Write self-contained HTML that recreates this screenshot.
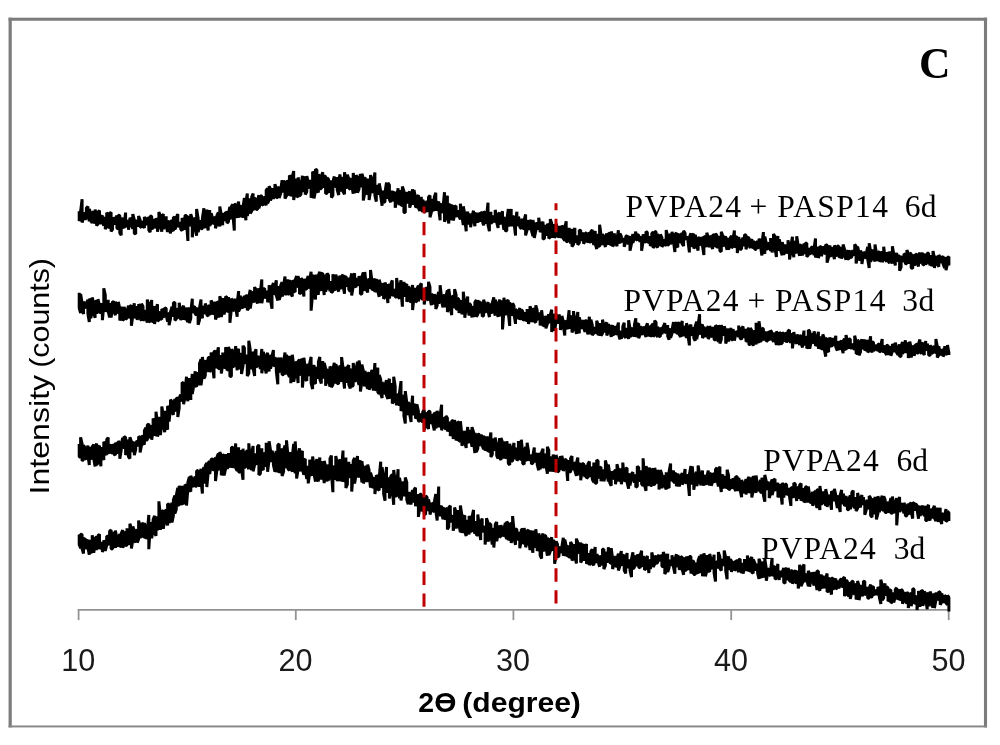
<!DOCTYPE html>
<html lang="en">
<head>
<meta charset="utf-8">
<title>XRD patterns</title>
<style>
html,body{margin:0;padding:0;background:#fff;}
body{width:1000px;height:745px;overflow:hidden;}
svg{display:block;}
</style>
</head>
<body>
<svg width="1000" height="745" viewBox="0 0 1000 745">
<rect x="0" y="0" width="1000" height="745" fill="#ffffff"/>
<g fill="#7c7c7c">
<rect x="8.57" y="17.7" width="3.2" height="709.7"/>
<rect x="983.95" y="17.7" width="3.1" height="709.7"/>
<rect x="8.57" y="17.7" width="978.48" height="3.05"/>
<rect x="8.57" y="725.5" width="978.48" height="1.9" fill="#868686"/>
</g>
<g stroke="#939393" stroke-width="1.8" fill="none">
<line x1="77.75" y1="609.93" x2="949.55" y2="609.93"/>
<line x1="78.6" y1="609.93" x2="78.6" y2="620.13"/>
<line x1="295.8" y1="609.93" x2="295.8" y2="620.13"/>
<line x1="513.4" y1="609.93" x2="513.4" y2="620.13"/>
<line x1="731.2" y1="609.93" x2="731.2" y2="620.13"/>
<line x1="948.7" y1="609.93" x2="948.7" y2="620.13"/>
</g>
<g fill="none" stroke="#000000" stroke-width="3" stroke-linejoin="bevel" stroke-linecap="butt">
<polyline points="79.2,211.2 79.2,220.9 80.6,217.1 80.6,211.5 82.1,199.3 82.1,222.6 83.5,218.4 83.5,213.0 85.0,214.3 85.0,219.6 86.4,217.8 86.4,208.1 87.9,206.5 87.9,213.9 89.3,221.3 89.3,209.1 90.8,213.4 90.8,220.8 92.2,222.9 92.2,213.5 93.7,211.5 93.7,223.5 95.1,219.0 95.1,209.6 96.6,215.0 96.6,225.7 98.0,223.8 98.0,212.3 99.5,210.5 99.5,222.4 100.9,223.5 100.9,217.4 102.4,215.5 102.4,222.9 103.8,225.6 103.8,217.5 105.3,219.5 105.3,229.3 106.7,225.0 106.7,212.8 108.2,214.6 108.2,227.1 109.6,227.6 109.6,213.2 111.1,212.5 111.1,231.4 112.5,229.4 112.5,218.7 114.0,218.1 114.0,223.2 115.4,223.9 115.4,218.3 116.9,215.8 116.9,228.1 118.3,228.9 118.3,215.2 119.8,215.4 119.8,232.9 121.2,235.3 121.2,218.6 122.7,218.7 122.7,225.7 124.1,228.3 124.1,223.1 125.6,212.6 125.6,224.7 127.0,227.1 127.0,220.3 128.5,222.7 128.5,229.7 129.9,220.9 129.9,217.8 131.4,220.7 131.4,224.6 132.8,228.7 132.8,214.0 134.3,219.9 134.3,233.3 135.7,233.9 135.7,219.5 137.2,225.4 137.2,226.2 138.6,224.5 138.6,216.1 140.1,219.8 140.1,226.5 141.5,227.5 141.5,224.0 143.0,221.1 143.0,225.4 144.4,227.9 144.4,217.0 145.9,219.8 145.9,222.5 147.3,224.9 147.3,218.3 148.8,217.8 148.8,229.9 150.2,232.3 150.2,215.9 151.7,216.4 151.7,228.4 153.1,228.2 153.1,224.3 154.6,218.9 154.6,226.6 156.0,227.4 156.0,218.2 157.5,221.0 157.5,231.8 158.9,223.9 158.9,212.1 160.4,216.3 160.4,224.4 161.8,231.7 161.8,216.1 163.3,214.1 163.3,228.9 164.7,225.7 164.7,221.4 166.2,216.3 166.2,226.3 167.6,232.0 167.6,221.8 169.1,221.5 169.1,228.1 170.5,233.4 170.5,221.6 172.0,220.4 172.0,229.7 173.4,231.0 173.4,217.3 174.9,217.6 174.9,229.4 176.3,226.4 176.3,217.7 177.8,214.1 177.8,226.5 179.2,225.7 179.2,222.4 180.7,224.1 180.7,229.1 182.1,230.8 182.1,218.1 183.6,220.9 183.6,225.0 185.0,229.8 185.0,215.5 186.5,215.4 186.5,222.1 187.9,240.9 187.9,217.5 189.4,216.8 189.4,224.7 190.8,225.3 190.8,214.1 192.3,219.5 192.3,237.3 193.7,222.7 193.7,218.4 195.2,219.1 195.2,227.0 196.6,235.7 196.6,209.0 198.1,218.3 198.1,232.1 199.5,227.1 199.5,222.3 201.0,220.7 201.0,228.8 202.4,228.5 202.4,218.3 203.9,208.3 203.9,227.1 205.3,227.0 205.3,220.8 206.8,209.4 206.8,224.2 208.2,230.5 208.2,215.6 209.7,210.1 209.7,225.8 211.1,222.9 211.1,213.2 212.6,218.1 212.6,222.6 214.0,223.8 214.0,219.9 215.5,216.6 215.5,228.3 216.9,224.1 216.9,215.4 218.4,212.4 218.4,221.8 219.8,226.4 219.8,206.4 221.3,215.1 221.3,220.0 222.7,225.2 222.7,219.1 224.1,213.0 224.1,219.5 225.6,220.1 225.6,212.1 227.0,212.9 227.0,223.1 228.5,221.6 228.5,212.9 229.9,206.8 229.9,219.3 231.4,214.6 231.4,206.4 232.8,204.5 232.8,213.7 234.3,230.5 234.3,204.7 235.7,204.3 235.7,210.9 237.2,217.9 237.2,207.2 238.6,201.5 238.6,215.4 240.1,217.0 240.1,207.6 241.5,205.4 241.5,211.7 243.0,217.7 243.0,207.1 244.4,198.1 244.4,211.2 245.9,220.3 245.9,201.9 247.3,193.6 247.3,215.8 248.8,210.4 248.8,198.2 250.2,205.6 250.2,213.3 251.7,211.1 251.7,197.1 253.1,193.6 253.1,210.2 254.6,206.0 254.6,197.9 256.0,199.6 256.0,209.3 257.5,209.4 257.5,200.7 258.9,195.2 258.9,208.5 260.4,202.6 260.4,195.6 261.8,196.2 261.8,204.4 263.3,205.1 263.3,197.7 264.7,197.6 264.7,202.7 266.2,205.2 266.2,190.1 267.6,188.4 267.6,203.3 269.1,199.9 269.1,186.3 270.5,188.9 270.5,200.6 272.0,196.2 272.0,188.0 273.4,194.6 273.4,198.9 274.9,192.9 274.9,184.2 276.3,188.3 276.3,197.8 277.8,197.1 277.8,188.7 279.2,186.8 279.2,198.0 280.7,193.3 280.7,189.8 282.1,180.1 282.1,192.6 283.6,183.6 283.6,181.1 285.0,182.6 285.0,198.5 286.5,195.7 286.5,181.6 287.9,181.1 287.9,192.3 289.4,195.3 289.4,175.6 290.8,176.6 290.8,196.3 292.3,189.7 292.3,176.3 293.7,171.1 293.7,200.1 295.2,191.2 295.2,184.4 296.6,178.7 296.6,195.8 298.1,197.3 298.1,177.4 299.5,184.6 299.5,195.9 301.0,194.3 301.0,186.7 302.4,175.8 302.4,191.8 303.9,185.8 303.9,178.5 305.3,177.1 305.3,194.4 306.8,191.8 306.8,176.1 308.2,181.7 308.2,187.6 309.7,187.1 309.7,182.1 311.1,180.3 311.1,197.7 312.6,192.8 312.6,171.7 314.0,173.6 314.0,198.5 315.5,191.1 315.5,169.2 316.9,170.0 316.9,189.9 318.4,192.4 318.4,174.5 319.8,177.0 319.8,188.7 321.3,188.7 321.3,176.4 322.7,172.2 322.7,184.9 324.2,187.5 324.2,175.9 325.6,176.6 325.6,193.6 327.1,193.3 327.1,178.0 328.5,179.1 328.5,192.6 330.0,188.2 330.0,182.8 331.4,180.9 331.4,197.6 332.9,195.4 332.9,182.0 334.3,176.4 334.3,187.1 335.8,184.9 335.8,178.4 337.2,178.6 337.2,189.9 338.7,195.1 338.7,179.6 340.1,174.4 340.1,187.0 341.6,191.3 341.6,183.4 343.0,176.7 343.0,191.6 344.5,194.3 344.5,172.3 345.9,180.1 345.9,183.7 347.4,188.5 347.4,174.6 348.8,179.1 348.8,187.9 350.3,189.4 350.3,178.0 351.7,181.9 351.7,185.2 353.2,193.7 353.2,173.0 354.6,180.9 354.6,192.2 356.1,191.6 356.1,175.2 357.5,178.0 357.5,192.8 359.0,189.1 359.0,180.5 360.4,174.1 360.4,179.1 361.9,187.3 361.9,173.7 363.3,178.3 363.3,200.5 364.8,193.0 364.8,177.3 366.2,181.6 366.2,193.1 367.7,193.8 367.7,178.5 369.1,186.3 369.1,199.9 370.5,191.3 370.5,175.1 372.0,180.0 372.0,191.2 373.4,192.3 373.4,182.7 374.9,172.5 374.9,195.5 376.3,201.6 376.3,186.2 377.8,186.5 377.8,194.6 379.2,191.1 379.2,183.4 380.7,191.1 380.7,196.0 382.1,205.8 382.1,192.3 383.6,191.6 383.6,202.6 385.0,201.5 385.0,192.3 386.5,182.4 386.5,198.7 387.9,193.0 387.9,182.9 389.4,185.0 389.4,199.5 390.8,202.3 390.8,195.3 392.3,190.8 392.3,201.0 393.7,198.0 393.7,193.6 395.2,191.9 395.2,207.7 396.6,201.7 396.6,198.6 398.1,188.2 398.1,198.0 399.5,205.0 399.5,190.6 401.0,192.4 401.0,205.6 402.4,205.1 402.4,186.5 403.9,191.2 403.9,212.5 405.3,212.6 405.3,199.5 406.8,191.9 406.8,202.2 408.2,202.0 408.2,194.1 409.7,191.6 409.7,207.7 411.1,202.9 411.1,196.3 412.6,189.2 412.6,204.7 414.0,200.5 414.0,190.0 415.5,197.6 415.5,207.3 416.9,206.5 416.9,197.3 418.4,195.0 418.4,207.7 419.8,211.0 419.8,207.4 421.3,196.7 421.3,209.1 422.7,211.8 422.7,199.8 424.2,203.3 424.2,211.4 425.6,212.1 425.6,203.8 427.1,201.0 427.1,211.9 428.5,205.3 428.5,197.2 430.0,195.5 430.0,217.3 431.4,212.0 431.4,198.8 432.9,204.2 432.9,209.1 434.3,210.7 434.3,196.9 435.8,192.8 435.8,209.4 437.2,209.4 437.2,204.2 438.7,201.6 438.7,208.6 440.1,220.3 440.1,206.9 441.6,203.4 441.6,211.4 443.0,212.1 443.0,208.2 444.5,192.2 444.5,221.7 445.9,217.1 445.9,200.8 447.4,195.8 447.4,215.0 448.8,223.4 448.8,205.5 450.3,204.2 450.3,218.8 451.7,219.1 451.7,205.7 453.2,206.3 453.2,220.5 454.6,215.8 454.6,206.7 456.1,205.9 456.1,214.3 457.5,216.8 457.5,212.7 459.0,210.7 459.0,216.3 460.4,219.5 460.4,203.8 461.9,214.3 461.9,216.3 463.3,225.0 463.3,206.4 464.8,214.3 464.8,219.4 466.2,231.2 466.2,217.9 467.7,211.6 467.7,217.9 469.1,224.5 469.1,213.4 470.6,220.1 470.6,227.2 472.0,218.6 472.0,215.8 473.5,210.7 473.5,217.7 474.9,226.3 474.9,215.6 476.4,212.7 476.4,219.1 477.8,222.8 477.8,216.2 479.3,213.0 479.3,218.9 480.7,221.5 480.7,212.2 482.2,213.5 482.2,220.5 483.6,225.4 483.6,211.5 485.1,213.0 485.1,220.3 486.5,223.6 486.5,216.7 488.0,202.7 488.0,225.0 489.4,231.2 489.4,222.2 490.9,211.8 490.9,223.5 492.3,221.9 492.3,216.4 493.8,217.1 493.8,220.4 495.2,222.2 495.2,209.9 496.7,217.4 496.7,222.4 498.1,227.9 498.1,214.5 499.6,212.8 499.6,221.2 501.0,224.3 501.0,214.7 502.5,211.3 502.5,220.1 503.9,229.7 503.9,216.9 505.4,223.8 505.4,231.2 506.8,230.4 506.8,220.2 508.3,209.0 508.3,225.9 509.7,224.3 509.7,219.3 511.2,208.9 511.2,226.3 512.6,222.3 512.6,215.9 514.0,217.7 514.0,222.2 515.5,235.6 515.5,220.4 516.9,211.8 516.9,225.4 518.4,224.2 518.4,216.8 519.8,221.0 519.8,226.8 521.3,228.9 521.3,222.5 522.7,218.7 522.7,227.9 524.2,229.2 524.2,219.8 525.6,214.5 525.6,235.4 527.1,230.0 527.1,222.9 528.5,220.6 528.5,229.5 530.0,227.4 530.0,219.7 531.4,225.8 531.4,230.2 532.9,236.1 532.9,220.1 534.3,226.7 534.3,237.9 535.8,230.6 535.8,223.5 537.2,223.5 537.2,226.8 538.7,229.4 538.7,217.7 540.1,226.2 540.1,232.2 541.6,228.6 541.6,224.3 543.0,221.8 543.0,239.2 544.5,238.3 544.5,227.5 545.9,225.4 545.9,229.3 547.4,235.6 547.4,223.7 548.8,226.7 548.8,238.5 550.3,236.9 550.3,219.1 551.7,223.3 551.7,236.6 553.2,236.6 553.2,224.0 554.6,233.7 554.6,238.0 556.1,232.5 556.1,223.6 557.5,228.6 557.5,236.9 559.0,236.1 559.0,225.8 560.4,232.4 560.4,237.9 561.9,234.0 561.9,225.4 563.3,228.1 563.3,238.5 564.8,240.8 564.8,227.8 566.2,221.2 566.2,241.3 567.7,241.8 567.7,233.3 569.1,227.8 569.1,237.3 570.6,243.5 570.6,233.3 572.0,228.9 572.0,246.6 573.5,244.5 573.5,231.1 574.9,228.0 574.9,241.7 576.4,241.5 576.4,235.3 577.8,242.8 577.8,244.8 579.3,242.9 579.3,230.1 580.7,230.4 580.7,237.5 582.2,240.7 582.2,232.4 583.6,236.3 583.6,243.8 585.1,240.6 585.1,233.1 586.5,233.3 586.5,238.8 588.0,242.7 588.0,232.7 589.4,234.7 589.4,241.0 590.9,242.8 590.9,231.6 592.3,229.8 592.3,236.7 593.8,245.0 593.8,236.8 595.2,230.9 595.2,243.7 596.7,249.1 596.7,241.2 598.1,233.8 598.1,246.1 599.6,246.4 599.6,224.8 601.0,234.5 601.0,242.1 602.5,244.9 602.5,234.3 603.9,236.3 603.9,241.8 605.4,247.1 605.4,239.7 606.8,233.4 606.8,240.3 608.3,244.7 608.3,233.8 609.7,233.2 609.7,244.7 611.2,243.9 611.2,231.6 612.6,235.2 612.6,246.6 614.1,243.9 614.1,233.4 615.5,239.4 615.5,241.7 617.0,246.3 617.0,238.4 618.4,230.3 618.4,239.6 619.9,243.4 619.9,233.4 621.3,236.2 621.3,239.3 622.8,242.2 622.8,240.1 624.2,238.5 624.2,246.7 625.7,242.4 625.7,236.7 627.1,235.2 627.1,238.9 628.6,244.4 628.6,238.3 630.0,236.3 630.0,250.8 631.5,243.6 631.5,240.2 632.9,234.0 632.9,242.9 634.4,238.4 634.4,237.4 635.8,231.6 635.8,239.0 637.3,240.4 637.3,234.7 638.7,234.9 638.7,239.1 640.2,241.7 640.2,237.4 641.6,237.6 641.6,250.8 643.1,241.3 643.1,234.2 644.5,239.5 644.5,242.5 646.0,240.7 646.0,231.4 647.4,232.7 647.4,242.6 648.9,241.7 648.9,237.3 650.3,237.6 650.3,246.1 651.8,242.1 651.8,233.6 653.2,231.8 653.2,248.1 654.7,244.8 654.7,231.4 656.1,231.9 656.1,245.8 657.6,247.5 657.6,234.1 659.0,237.8 659.0,242.2 660.4,245.8 660.4,234.4 661.9,237.6 661.9,246.8 663.3,244.9 663.3,240.4 664.8,240.2 664.8,243.7 666.2,246.1 666.2,230.1 667.7,236.0 667.7,245.4 669.1,243.8 669.1,236.4 670.6,233.9 670.6,243.9 672.0,241.9 672.0,231.8 673.5,238.3 673.5,241.5 674.9,252.0 674.9,234.6 676.4,232.7 676.4,245.9 677.8,247.3 677.8,237.0 679.3,233.7 679.3,242.7 680.7,240.6 680.7,235.4 682.2,232.9 682.2,243.9 683.6,245.9 683.6,230.7 685.1,233.3 685.1,238.1 686.5,239.6 686.5,237.2 688.0,237.6 688.0,241.5 689.4,252.4 689.4,237.3 690.9,233.2 690.9,244.9 692.3,246.2 692.3,235.4 693.8,233.9 693.8,248.5 695.2,246.5 695.2,234.9 696.7,239.4 696.7,246.1 698.1,250.5 698.1,239.5 699.6,237.0 699.6,243.7 701.0,245.1 701.0,237.3 702.5,239.9 702.5,246.1 703.9,255.1 703.9,236.2 705.4,237.5 705.4,242.8 706.8,247.1 706.8,232.8 708.3,237.5 708.3,244.1 709.7,247.2 709.7,236.1 711.2,237.3 711.2,245.5 712.6,248.9 712.6,235.4 714.1,234.4 714.1,246.7 715.5,243.8 715.5,233.6 717.0,235.4 717.0,247.9 718.4,246.2 718.4,236.9 719.9,238.0 719.9,250.9 721.3,251.6 721.3,231.8 722.8,235.9 722.8,245.2 724.2,245.6 724.2,239.7 725.7,236.2 725.7,245.1 727.1,249.7 727.1,239.6 728.6,238.8 728.6,249.8 730.0,243.2 730.0,238.5 731.5,235.8 731.5,248.1 732.9,246.5 732.9,240.1 734.4,230.5 734.4,247.6 735.8,244.2 735.8,236.3 737.3,237.8 737.3,253.1 738.7,244.2 738.7,237.0 740.2,244.5 740.2,249.9 741.6,248.5 741.6,241.0 743.1,237.6 743.1,242.8 744.5,246.0 744.5,234.7 746.0,235.1 746.0,249.3 747.4,243.4 747.4,237.4 748.9,237.7 748.9,245.0 750.3,248.0 750.3,242.5 751.8,239.1 751.8,247.7 753.2,247.2 753.2,240.7 754.7,244.6 754.7,249.6 756.1,249.3 756.1,242.4 757.6,241.4 757.6,248.4 759.0,245.9 759.0,238.8 760.5,241.2 760.5,246.1 761.9,255.6 761.9,243.8 763.4,232.1 763.4,250.1 764.8,253.7 764.8,236.5 766.3,243.3 766.3,248.6 767.7,249.6 767.7,244.4 769.2,242.7 769.2,244.4 770.6,250.9 770.6,237.9 772.1,249.7 772.1,252.5 773.5,245.9 773.5,233.9 775.0,236.7 775.0,248.2 776.4,256.9 776.4,246.7 777.9,236.0 777.9,250.6 779.3,246.4 779.3,239.3 780.8,245.7 780.8,251.0 782.2,255.2 782.2,242.2 783.7,247.6 783.7,254.8 785.1,251.0 785.1,244.4 786.6,249.0 786.6,253.2 788.0,251.8 788.0,240.3 789.5,248.1 789.5,259.5 790.9,251.5 790.9,246.1 792.4,236.8 792.4,248.8 793.8,257.2 793.8,241.2 795.3,244.8 795.3,251.6 796.7,253.0 796.7,236.3 798.2,245.8 798.2,250.6 799.6,255.8 799.6,244.9 801.1,245.4 801.1,249.4 802.5,255.6 802.5,251.7 804.0,243.5 804.0,253.2 805.4,252.1 805.4,243.4 806.8,242.9 806.8,256.8 808.3,255.0 808.3,249.9 809.7,248.5 809.7,254.2 811.2,252.9 811.2,247.5 812.6,246.9 812.6,250.7 814.1,255.0 814.1,248.2 815.5,238.4 815.5,257.4 817.0,253.3 817.0,250.6 818.4,247.1 818.4,258.0 819.9,252.6 819.9,246.1 821.3,247.5 821.3,256.1 822.8,252.3 822.8,246.4 824.2,248.8 824.2,251.4 825.7,254.3 825.7,244.4 827.1,245.5 827.1,262.7 828.6,257.1 828.6,248.4 830.0,245.6 830.0,256.3 831.5,255.3 831.5,248.9 832.9,247.9 832.9,253.0 834.4,259.2 834.4,245.5 835.8,248.0 835.8,255.8 837.3,254.4 837.3,246.2 838.7,245.9 838.7,256.3 840.2,257.4 840.2,248.6 841.6,247.8 841.6,258.7 843.1,253.5 843.1,244.4 844.5,249.2 844.5,254.8 846.0,259.8 846.0,253.7 847.4,250.1 847.4,258.6 848.9,259.2 848.9,250.8 850.3,252.0 850.3,257.8 851.8,256.9 851.8,251.3 853.2,251.2 853.2,254.0 854.7,255.0 854.7,244.5 856.1,246.0 856.1,263.5 857.6,256.4 857.6,246.5 859.0,252.6 859.0,259.4 860.5,259.8 860.5,250.6 861.9,253.8 861.9,263.9 863.4,255.5 863.4,252.0 864.8,253.7 864.8,257.1 866.3,258.0 866.3,253.3 867.7,246.9 867.7,259.2 869.2,267.9 869.2,243.3 870.6,251.4 870.6,261.7 872.1,258.1 872.1,249.4 873.5,255.4 873.5,257.5 875.0,261.4 875.0,244.4 876.4,253.2 876.4,260.7 877.9,255.8 877.9,251.4 879.3,252.4 879.3,261.5 880.8,259.8 880.8,252.6 882.2,252.5 882.2,262.2 883.7,257.4 883.7,246.8 885.1,258.4 885.1,259.5 886.6,261.7 886.6,252.2 888.0,255.8 888.0,261.0 889.5,263.3 889.5,251.5 890.9,255.7 890.9,259.4 892.4,263.4 892.4,246.3 893.8,254.4 893.8,256.8 895.3,265.6 895.3,260.4 896.7,252.8 896.7,261.1 898.2,259.7 898.2,255.9 899.6,255.9 899.6,270.7 901.1,267.2 901.1,257.1 902.5,257.2 902.5,260.9 904.0,261.1 904.0,253.7 905.4,254.7 905.4,264.2 906.9,263.1 906.9,250.1 908.3,253.5 908.3,263.7 909.8,258.6 909.8,253.2 911.2,253.9 911.2,268.1 912.7,268.4 912.7,257.2 914.1,254.7 914.1,264.3 915.6,264.8 915.6,254.1 917.0,254.4 917.0,262.2 918.5,266.6 918.5,257.1 919.9,252.5 919.9,261.4 921.4,263.1 921.4,254.4 922.8,253.1 922.8,265.1 924.3,264.2 924.3,257.9 925.7,253.6 925.7,264.4 927.2,261.9 927.2,253.4 928.6,252.9 928.6,260.7 930.1,265.4 930.1,256.6 931.5,256.4 931.5,266.3 933.0,261.2 933.0,251.0 934.4,258.0 934.4,268.1 935.9,257.9 935.9,256.0 937.3,259.4 937.3,264.3 938.8,266.7 938.8,255.1 940.2,257.2 940.2,262.1 941.7,262.0 941.7,258.0 943.1,256.0 943.1,264.0 944.6,268.0 944.6,258.0 946.0,258.9 946.0,270.2 947.5,263.7 947.5,257.3 948.9,256.8 948.9,265.5"/>
<polyline points="79.2,292.7 79.2,308.0 80.6,313.0 80.6,294.0 82.1,302.8 82.1,310.0 83.5,313.9 83.5,302.9 85.0,302.5 85.0,307.6 86.4,307.1 86.4,303.4 87.9,299.8 87.9,313.8 89.3,322.0 89.3,298.7 90.8,301.0 90.8,318.1 92.2,310.6 92.2,297.4 93.7,303.3 93.7,313.1 95.1,317.7 95.1,301.8 96.6,301.0 96.6,313.4 98.0,309.6 98.0,299.2 99.5,305.3 99.5,313.1 100.9,312.2 100.9,303.2 102.4,307.6 102.4,320.2 103.8,305.5 103.8,288.3 105.3,295.0 105.3,311.8 106.7,308.0 106.7,305.6 108.2,299.8 108.2,311.3 109.6,317.5 109.6,303.6 111.1,305.5 111.1,317.6 112.5,308.0 112.5,301.6 114.0,302.1 114.0,311.3 115.4,315.2 115.4,301.7 116.9,307.3 116.9,313.2 118.3,310.5 118.3,301.9 119.8,308.6 119.8,320.6 121.2,313.2 121.2,307.9 122.7,307.9 122.7,320.4 124.1,319.0 124.1,306.8 125.6,312.9 125.6,319.5 127.0,318.0 127.0,311.5 128.5,305.7 128.5,318.0 129.9,315.8 129.9,305.5 131.4,306.3 131.4,325.8 132.8,315.6 132.8,310.6 134.3,303.2 134.3,318.2 135.7,315.0 135.7,312.3 137.2,306.2 137.2,320.0 138.6,312.1 138.6,304.2 140.1,306.8 140.1,318.3 141.5,320.6 141.5,303.8 143.0,306.5 143.0,320.8 144.4,318.6 144.4,315.0 145.9,310.0 145.9,318.0 147.3,322.5 147.3,299.6 148.8,308.0 148.8,321.3 150.2,321.7 150.2,304.7 151.7,300.1 151.7,316.9 153.1,322.6 153.1,309.8 154.6,306.4 154.6,324.0 156.0,313.6 156.0,308.7 157.5,304.2 157.5,321.3 158.9,319.9 158.9,314.8 160.4,311.6 160.4,318.8 161.8,319.3 161.8,308.9 163.3,310.6 163.3,317.7 164.7,311.5 164.7,307.7 166.2,308.5 166.2,315.1 167.6,321.8 167.6,313.3 169.1,314.4 169.1,325.3 170.5,318.7 170.5,311.8 172.0,306.6 172.0,316.5 173.4,312.5 173.4,302.7 174.9,302.5 174.9,320.3 176.3,319.0 176.3,308.3 177.8,312.2 177.8,317.2 179.2,317.7 179.2,302.8 180.7,313.3 180.7,320.3 182.1,312.9 182.1,308.7 183.6,305.8 183.6,319.7 185.0,316.6 185.0,307.6 186.5,312.9 186.5,319.4 187.9,322.0 187.9,307.6 189.4,312.0 189.4,323.2 190.8,318.3 190.8,311.7 192.3,298.7 192.3,311.6 193.7,312.2 193.7,306.7 195.2,307.4 195.2,314.1 196.6,314.8 196.6,308.0 198.1,310.9 198.1,324.8 199.5,320.1 199.5,308.0 201.0,299.6 201.0,313.8 202.4,318.2 202.4,307.3 203.9,307.0 203.9,313.1 205.3,312.6 205.3,303.4 206.8,307.5 206.8,314.8 208.2,316.3 208.2,307.2 209.7,305.2 209.7,313.5 211.1,314.2 211.1,300.5 212.6,303.7 212.6,314.4 214.0,312.0 214.0,303.1 215.5,303.0 215.5,319.4 216.9,316.1 216.9,301.7 218.4,302.8 218.4,317.5 219.8,309.1 219.8,296.3 221.3,300.5 221.3,316.9 222.7,310.2 222.7,298.2 224.1,302.0 224.1,314.4 225.6,307.0 225.6,296.4 227.0,297.4 227.0,311.0 228.5,311.5 228.5,297.4 229.9,301.5 229.9,322.8 231.4,308.5 231.4,298.9 232.8,299.9 232.8,309.2 234.3,311.1 234.3,301.1 235.7,299.0 235.7,308.0 237.2,316.8 237.2,302.7 238.6,291.1 238.6,311.5 240.1,308.2 240.1,295.7 241.5,300.2 241.5,306.4 243.0,308.2 243.0,299.2 244.4,296.0 244.4,302.4 245.9,307.5 245.9,294.9 247.3,297.2 247.3,310.2 248.8,308.2 248.8,297.4 250.2,289.9 250.2,308.6 251.7,300.1 251.7,291.6 253.1,294.8 253.1,301.4 254.6,301.3 254.6,287.1 256.0,289.8 256.0,300.1 257.5,303.4 257.5,294.0 258.9,288.3 258.9,302.5 260.4,300.6 260.4,291.4 261.8,279.4 261.8,303.2 263.3,294.3 263.3,289.1 264.7,288.5 264.7,298.2 266.2,296.1 266.2,291.0 267.6,293.8 267.6,302.3 269.1,297.9 269.1,285.3 270.5,289.5 270.5,300.3 272.0,308.8 272.0,287.1 273.4,283.0 273.4,294.4 274.9,291.9 274.9,287.0 276.3,280.3 276.3,295.4 277.8,300.5 277.8,290.5 279.2,286.1 279.2,299.7 280.7,295.3 280.7,285.3 282.1,282.2 282.1,296.6 283.6,292.0 283.6,285.5 285.0,276.4 285.0,295.1 286.5,292.4 286.5,284.4 287.9,279.5 287.9,295.1 289.4,292.0 289.4,280.0 290.8,287.2 290.8,293.4 292.3,296.5 292.3,280.6 293.7,282.2 293.7,290.9 295.2,292.1 295.2,279.9 296.6,276.0 296.6,285.9 298.1,286.8 298.1,276.0 299.5,283.7 299.5,293.9 301.0,292.8 301.0,278.4 302.4,279.7 302.4,287.5 303.9,296.4 303.9,284.1 305.3,279.0 305.3,288.8 306.8,289.3 306.8,279.8 308.2,275.9 308.2,287.8 309.7,286.9 309.7,279.7 311.1,271.8 311.1,310.7 312.6,293.9 312.6,277.7 314.0,274.9 314.0,290.9 315.5,299.6 315.5,278.3 316.9,274.9 316.9,289.9 318.4,294.7 318.4,275.4 319.8,271.7 319.8,287.8 321.3,290.8 321.3,274.2 322.7,273.0 322.7,281.9 324.2,295.0 324.2,275.1 325.6,276.8 325.6,291.6 327.1,287.1 327.1,273.3 328.5,275.2 328.5,283.5 330.0,291.1 330.0,281.0 331.4,287.8 331.4,292.8 332.9,291.3 332.9,274.3 334.3,282.3 334.3,290.5 335.8,287.1 335.8,274.6 337.2,279.2 337.2,288.6 338.7,291.5 338.7,278.8 340.1,275.8 340.1,288.6 341.6,287.2 341.6,276.6 343.0,274.7 343.0,285.3 344.5,293.8 344.5,277.9 345.9,275.9 345.9,285.0 347.4,286.2 347.4,280.2 348.8,278.0 348.8,289.5 350.3,291.6 350.3,279.8 351.7,273.4 351.7,295.5 353.2,286.6 353.2,279.4 354.6,273.2 354.6,285.9 356.1,287.2 356.1,279.0 357.5,279.6 357.5,285.4 359.0,282.8 359.0,276.0 360.4,283.4 360.4,294.1 361.9,294.1 361.9,277.0 363.3,272.5 363.3,291.0 364.8,280.6 364.8,271.9 366.2,284.8 366.2,289.5 367.7,292.4 367.7,282.1 369.1,278.5 369.1,288.4 370.5,284.9 370.5,269.9 372.0,281.4 372.0,290.0 373.4,288.9 373.4,285.3 374.9,278.4 374.9,292.0 376.3,289.6 376.3,279.3 377.8,282.6 377.8,291.1 379.2,296.8 379.2,279.7 380.7,285.1 380.7,294.5 382.1,293.9 382.1,283.4 383.6,286.4 383.6,298.8 385.0,296.7 385.0,282.4 386.5,286.7 386.5,291.7 387.9,303.1 387.9,285.5 389.4,285.0 389.4,298.6 390.8,291.0 390.8,284.3 392.3,280.4 392.3,295.4 393.7,294.9 393.7,289.2 395.2,292.1 395.2,296.5 396.6,297.5 396.6,277.9 398.1,289.0 398.1,296.6 399.5,298.7 399.5,287.7 401.0,280.3 401.0,290.7 402.4,306.7 402.4,291.1 403.9,281.7 403.9,296.4 405.3,292.9 405.3,285.8 406.8,283.9 406.8,301.7 408.2,297.7 408.2,286.2 409.7,290.9 409.7,300.7 411.1,302.2 411.1,289.9 412.6,285.1 412.6,310.1 414.0,296.8 414.0,290.5 415.5,288.4 415.5,302.0 416.9,301.1 416.9,288.6 418.4,285.8 418.4,301.3 419.8,295.0 419.8,285.8 421.3,283.4 421.3,297.6 422.7,299.6 422.7,288.8 424.2,297.3 424.2,304.5 425.6,296.1 425.6,288.6 427.1,287.8 427.1,299.8 428.5,299.2 428.5,281.8 430.0,287.2 430.0,297.9 431.4,305.2 431.4,294.0 432.9,295.4 432.9,304.2 434.3,301.0 434.3,294.3 435.8,298.9 435.8,309.0 437.2,305.5 437.2,296.9 438.7,291.9 438.7,303.7 440.1,295.0 440.1,285.3 441.6,297.7 441.6,301.4 443.0,307.5 443.0,298.9 444.5,294.5 444.5,302.9 445.9,307.0 445.9,296.1 447.4,290.3 447.4,312.0 448.8,307.4 448.8,289.0 450.3,300.2 450.3,307.8 451.7,315.1 451.7,300.3 453.2,295.2 453.2,307.8 454.6,305.4 454.6,289.2 456.1,294.9 456.1,308.7 457.5,309.4 457.5,298.1 459.0,299.8 459.0,313.0 460.4,306.5 460.4,300.8 461.9,302.8 461.9,314.3 463.3,308.0 463.3,291.7 464.8,305.4 464.8,317.7 466.2,307.1 466.2,303.2 467.7,296.6 467.7,307.1 469.1,315.4 469.1,303.4 470.6,304.8 470.6,308.2 472.0,317.5 472.0,307.4 473.5,307.2 473.5,317.1 474.9,309.3 474.9,302.2 476.4,300.1 476.4,316.7 477.8,314.2 477.8,302.3 479.3,300.9 479.3,309.8 480.7,313.1 480.7,307.2 482.2,301.6 482.2,316.6 483.6,315.5 483.6,299.7 485.1,304.7 485.1,312.8 486.5,309.0 486.5,307.4 488.0,301.9 488.0,310.7 489.4,317.1 489.4,309.8 490.9,303.4 490.9,313.1 492.3,311.8 492.3,302.9 493.8,297.3 493.8,309.6 495.2,315.6 495.2,299.9 496.7,303.5 496.7,312.1 498.1,316.9 498.1,309.8 499.6,299.5 499.6,316.2 501.0,309.9 501.0,300.2 502.5,308.1 502.5,329.5 503.9,310.8 503.9,297.8 505.4,307.3 505.4,313.1 506.8,314.7 506.8,300.8 508.3,300.3 508.3,312.9 509.7,325.9 509.7,302.3 511.2,312.9 511.2,315.5 512.6,312.7 512.6,303.3 514.0,305.9 514.0,313.8 515.5,323.9 515.5,309.3 516.9,310.7 516.9,315.2 518.4,318.8 518.4,313.0 519.8,308.0 519.8,319.9 521.3,313.5 521.3,309.7 522.7,311.3 522.7,319.4 524.2,320.1 524.2,313.5 525.6,313.6 525.6,321.1 527.1,319.6 527.1,309.1 528.5,316.0 528.5,323.9 530.0,316.0 530.0,306.3 531.4,309.5 531.4,322.0 532.9,316.6 532.9,308.8 534.3,309.6 534.3,321.4 535.8,322.5 535.8,305.3 537.2,310.3 537.2,317.0 538.7,320.1 538.7,312.4 540.1,318.3 540.1,325.4 541.6,319.0 541.6,310.2 543.0,321.0 543.0,326.0 544.5,325.2 544.5,316.3 545.9,318.2 545.9,328.4 547.4,323.8 547.4,317.0 548.8,314.4 548.8,322.9 550.3,319.5 550.3,315.0 551.7,309.7 551.7,331.9 553.2,326.4 553.2,313.8 554.6,320.8 554.6,330.8 556.1,321.9 556.1,314.4 557.5,317.3 557.5,318.3 559.0,323.5 559.0,314.5 560.4,319.3 560.4,329.9 561.9,322.9 561.9,315.9 563.3,321.4 563.3,325.8 564.8,335.4 564.8,326.8 566.2,320.3 566.2,326.2 567.7,329.2 567.7,322.3 569.1,310.2 569.1,320.9 570.6,328.6 570.6,318.1 572.0,315.8 572.0,332.6 573.5,328.0 573.5,311.1 574.9,321.9 574.9,325.3 576.4,334.1 576.4,322.9 577.8,312.0 577.8,328.3 579.3,333.2 579.3,317.3 580.7,322.3 580.7,326.8 582.2,328.4 582.2,322.2 583.6,320.3 583.6,327.8 585.1,332.0 585.1,319.9 586.5,321.6 586.5,329.2 588.0,334.4 588.0,325.5 589.4,316.8 589.4,334.0 590.9,329.6 590.9,319.6 592.3,325.1 592.3,335.2 593.8,333.1 593.8,328.9 595.2,327.5 595.2,333.7 596.7,330.4 596.7,320.7 598.1,324.8 598.1,335.3 599.6,331.9 599.6,323.0 601.0,328.7 601.0,335.7 602.5,333.4 602.5,319.7 603.9,326.0 603.9,331.3 605.4,331.0 605.4,324.3 606.8,322.4 606.8,335.4 608.3,331.6 608.3,324.5 609.7,326.2 609.7,329.4 611.2,337.0 611.2,327.9 612.6,325.2 612.6,334.8 614.1,334.4 614.1,329.9 615.5,326.1 615.5,334.4 617.0,333.3 617.0,328.3 618.4,322.5 618.4,333.6 619.9,339.4 619.9,330.7 621.3,334.9 621.3,338.4 622.8,334.9 622.8,326.6 624.2,322.8 624.2,335.7 625.7,337.9 625.7,333.2 627.1,328.0 627.1,331.3 628.6,338.9 628.6,320.2 630.0,328.5 630.0,335.8 631.5,336.3 631.5,330.2 632.9,327.7 632.9,329.3 634.4,336.8 634.4,325.1 635.8,318.3 635.8,336.9 637.3,332.6 637.3,324.4 638.7,323.6 638.7,338.2 640.2,334.3 640.2,326.9 641.6,327.7 641.6,334.5 643.1,332.7 643.1,326.5 644.5,331.5 644.5,333.5 646.0,336.9 646.0,327.1 647.4,323.2 647.4,334.6 648.9,335.6 648.9,325.8 650.3,329.1 650.3,336.7 651.8,334.7 651.8,324.9 653.2,324.0 653.2,336.7 654.7,333.9 654.7,320.5 656.1,322.5 656.1,334.4 657.6,336.9 657.6,326.9 659.0,329.3 659.0,336.3 660.4,336.6 660.4,327.9 661.9,329.2 661.9,334.0 663.3,330.0 663.3,326.5 664.8,323.1 664.8,332.0 666.2,332.5 666.2,330.4 667.7,325.1 667.7,336.2 669.1,339.7 669.1,332.1 670.6,328.5 670.6,337.7 672.0,333.6 672.0,330.1 673.5,321.9 673.5,331.7 674.9,331.5 674.9,327.2 676.4,322.0 676.4,333.1 677.8,333.3 677.8,323.1 679.3,323.3 679.3,334.9 680.7,336.9 680.7,326.5 682.2,320.9 682.2,334.0 683.6,335.9 683.6,327.3 685.1,327.1 685.1,333.7 686.5,337.9 686.5,323.3 688.0,327.8 688.0,335.5 689.4,345.4 689.4,328.6 690.9,324.5 690.9,333.6 692.3,335.4 692.3,330.2 693.8,327.4 693.8,338.1 695.2,340.7 695.2,326.2 696.7,321.6 696.7,339.3 698.1,332.0 698.1,325.1 699.6,314.3 699.6,330.9 701.0,334.6 701.0,326.2 702.5,324.4 702.5,338.1 703.9,335.7 703.9,326.6 705.4,332.1 705.4,337.1 706.8,333.4 706.8,328.5 708.3,326.4 708.3,339.0 709.7,336.2 709.7,326.1 711.2,329.4 711.2,335.4 712.6,337.2 712.6,328.1 714.1,328.2 714.1,339.6 715.5,340.0 715.5,325.4 717.0,326.8 717.0,338.9 718.4,341.7 718.4,325.2 719.9,331.1 719.9,343.4 721.3,339.5 721.3,325.1 722.8,329.7 722.8,333.6 724.2,335.2 724.2,326.2 725.7,330.4 725.7,343.6 727.1,339.7 727.1,328.9 728.6,330.8 728.6,341.5 730.0,334.1 730.0,329.2 731.5,328.9 731.5,339.1 732.9,340.6 732.9,329.2 734.4,334.0 734.4,340.6 735.8,333.8 735.8,332.2 737.3,331.6 737.3,334.1 738.7,336.9 738.7,325.6 740.2,336.1 740.2,338.4 741.6,339.4 741.6,328.5 743.1,326.4 743.1,337.7 744.5,335.9 744.5,331.5 746.0,329.4 746.0,341.5 747.4,340.6 747.4,329.7 748.9,328.0 748.9,344.4 750.3,344.6 750.3,327.9 751.8,330.4 751.8,338.7 753.2,345.9 753.2,330.6 754.7,333.7 754.7,340.1 756.1,344.4 756.1,322.7 757.6,333.6 757.6,337.9 759.0,343.0 759.0,321.3 760.5,332.1 760.5,341.7 761.9,339.4 761.9,328.4 763.4,328.7 763.4,337.6 764.8,340.2 764.8,334.0 766.3,331.9 766.3,341.6 767.7,340.4 767.7,331.7 769.2,333.1 769.2,338.1 770.6,340.0 770.6,330.2 772.1,332.9 772.1,337.8 773.5,341.9 773.5,333.5 775.0,334.3 775.0,338.9 776.4,344.9 776.4,331.6 777.9,333.6 777.9,338.1 779.3,345.2 779.3,332.6 780.8,333.6 780.8,343.7 782.2,343.4 782.2,332.2 783.7,334.7 783.7,338.8 785.1,341.5 785.1,332.5 786.6,335.0 786.6,342.7 788.0,337.0 788.0,331.2 789.5,329.9 789.5,340.8 790.9,342.7 790.9,336.0 792.4,333.7 792.4,348.4 793.8,337.7 793.8,332.1 795.3,339.5 795.3,341.9 796.7,343.7 796.7,335.5 798.2,335.5 798.2,340.6 799.6,345.1 799.6,336.0 801.1,335.8 801.1,343.6 802.5,347.6 802.5,340.6 804.0,330.6 804.0,345.5 805.4,339.7 805.4,336.2 806.8,339.8 806.8,348.4 808.3,346.1 808.3,330.0 809.7,331.1 809.7,348.7 811.2,341.8 811.2,332.9 812.6,337.1 812.6,342.4 814.1,342.7 814.1,331.3 815.5,337.7 815.5,346.1 817.0,342.7 817.0,339.2 818.4,331.8 818.4,348.7 819.9,344.2 819.9,336.4 821.3,341.1 821.3,349.2 822.8,348.4 822.8,334.4 824.2,338.0 824.2,348.8 825.7,356.6 825.7,339.1 827.1,338.5 827.1,350.8 828.6,351.9 828.6,343.0 830.0,337.3 830.0,343.4 831.5,347.1 831.5,343.2 832.9,338.0 832.9,343.8 834.4,345.5 834.4,341.5 835.8,335.8 835.8,347.0 837.3,350.6 837.3,341.4 838.7,343.8 838.7,347.5 840.2,349.6 840.2,341.7 841.6,341.2 841.6,347.2 843.1,353.2 843.1,341.2 844.5,338.7 844.5,348.0 846.0,350.0 846.0,335.1 847.4,340.9 847.4,344.5 848.9,348.7 848.9,339.1 850.3,339.3 850.3,347.1 851.8,348.6 851.8,344.7 853.2,344.7 853.2,348.8 854.7,348.9 854.7,335.7 856.1,341.8 856.1,353.6 857.6,353.3 857.6,339.7 859.0,342.2 859.0,355.3 860.5,351.8 860.5,342.7 861.9,339.3 861.9,346.4 863.4,349.1 863.4,343.7 864.8,339.4 864.8,350.4 866.3,348.7 866.3,344.2 867.7,340.0 867.7,352.2 869.2,350.6 869.2,344.7 870.6,336.3 870.6,346.8 872.1,352.5 872.1,341.9 873.5,342.4 873.5,349.9 875.0,350.2 875.0,345.8 876.4,345.9 876.4,347.8 877.9,350.9 877.9,344.8 879.3,343.7 879.3,352.0 880.8,351.2 880.8,345.1 882.2,339.0 882.2,348.3 883.7,352.6 883.7,346.4 885.1,346.7 885.1,352.3 886.6,355.1 886.6,345.7 888.0,345.0 888.0,347.4 889.5,354.9 889.5,348.4 890.9,346.6 890.9,355.8 892.4,351.0 892.4,344.0 893.8,346.4 893.8,348.9 895.3,351.9 895.3,342.6 896.7,347.5 896.7,352.7 898.2,355.0 898.2,350.3 899.6,344.3 899.6,356.5 901.1,356.2 901.1,346.2 902.5,342.1 902.5,353.5 904.0,351.6 904.0,346.5 905.4,340.3 905.4,352.2 906.9,351.6 906.9,342.8 908.3,345.2 908.3,357.9 909.8,348.6 909.8,341.6 911.2,348.6 911.2,357.5 912.7,350.9 912.7,345.8 914.1,347.2 914.1,355.7 915.6,351.1 915.6,344.2 917.0,344.8 917.0,353.5 918.5,352.3 918.5,343.7 919.9,339.6 919.9,350.3 921.4,354.0 921.4,344.4 922.8,342.6 922.8,352.3 924.3,354.9 924.3,350.6 925.7,341.0 925.7,350.5 927.2,348.0 927.2,343.7 928.6,348.1 928.6,354.8 930.1,355.8 930.1,345.4 931.5,347.5 931.5,353.5 933.0,352.5 933.0,346.6 934.4,346.9 934.4,353.1 935.9,350.8 935.9,339.0 937.3,346.2 937.3,357.6 938.8,354.9 938.8,346.2 940.2,352.8 940.2,354.4 941.7,354.1 941.7,350.6 943.1,349.5 943.1,356.6 944.6,354.1 944.6,346.2 946.0,351.9 946.0,353.4 947.5,354.4 947.5,345.1 948.9,352.8 948.9,355.0"/>
<polyline points="79.2,444.0 79.2,456.7 80.6,457.4 80.6,437.3 82.1,443.9 82.1,460.9 83.5,459.3 83.5,445.3 85.0,447.8 85.0,458.5 86.4,459.1 86.4,452.8 87.9,445.6 87.9,454.9 89.3,465.0 89.3,448.9 90.8,447.7 90.8,455.0 92.2,459.5 92.2,446.8 93.7,444.6 93.7,458.5 95.1,466.4 95.1,448.8 96.6,443.4 96.6,464.7 98.0,463.3 98.0,447.1 99.5,445.8 99.5,451.5 100.9,466.3 100.9,451.6 102.4,447.1 102.4,455.0 103.8,460.1 103.8,441.8 105.3,444.0 105.3,452.7 106.7,454.9 106.7,439.7 108.2,437.5 108.2,453.1 109.6,452.2 109.6,444.3 111.1,447.6 111.1,453.0 112.5,452.4 112.5,444.3 114.0,447.2 114.0,454.3 115.4,455.0 115.4,442.7 116.9,445.8 116.9,452.1 118.3,452.7 118.3,441.1 119.8,443.5 119.8,458.7 121.2,450.6 121.2,444.6 122.7,437.8 122.7,447.6 124.1,447.2 124.1,436.4 125.6,437.6 125.6,455.1 127.0,451.1 127.0,440.0 128.5,442.2 128.5,456.8 129.9,458.6 129.9,437.2 131.4,441.5 131.4,451.7 132.8,449.6 132.8,441.7 134.3,444.3 134.3,455.2 135.7,449.7 135.7,443.4 137.2,440.6 137.2,444.6 138.6,445.7 138.6,436.7 140.1,437.4 140.1,452.5 141.5,445.1 141.5,436.3 143.0,436.7 143.0,442.9 144.4,444.5 144.4,430.7 145.9,427.6 145.9,440.1 147.3,440.0 147.3,425.1 148.8,423.8 148.8,436.2 150.2,437.7 150.2,427.4 151.7,425.7 151.7,439.7 153.1,430.6 153.1,418.4 154.6,422.4 154.6,435.3 156.0,434.1 156.0,411.8 157.5,424.3 157.5,436.6 158.9,431.1 158.9,416.9 160.4,423.2 160.4,435.1 161.8,422.8 161.8,406.5 163.3,415.7 163.3,423.8 164.7,432.3 164.7,410.8 166.2,419.6 166.2,427.0 167.6,429.4 167.6,406.0 169.1,408.4 169.1,421.7 170.5,407.9 170.5,399.8 172.0,401.7 172.0,412.0 173.4,414.8 173.4,406.7 174.9,399.1 174.9,410.1 176.3,410.7 176.3,398.5 177.8,397.8 177.8,416.9 179.2,408.1 179.2,397.8 180.7,394.6 180.7,401.2 182.1,398.9 182.1,382.4 183.6,383.2 183.6,404.3 185.0,397.5 185.0,391.8 186.5,376.7 186.5,393.6 187.9,401.2 187.9,382.8 189.4,378.2 189.4,389.3 190.8,399.9 190.8,387.9 192.3,373.9 192.3,394.1 193.7,385.7 193.7,383.5 195.2,371.3 195.2,385.4 196.6,386.8 196.6,372.3 198.1,376.7 198.1,381.3 199.5,385.1 199.5,363.6 201.0,359.1 201.0,385.3 202.4,375.5 202.4,356.9 203.9,367.6 203.9,378.5 205.3,375.5 205.3,360.4 206.8,362.4 206.8,370.6 208.2,370.9 208.2,357.6 209.7,357.6 209.7,372.0 211.1,369.3 211.1,352.5 212.6,358.0 212.6,366.0 214.0,378.3 214.0,351.5 215.5,351.2 215.5,356.8 216.9,368.3 216.9,353.9 218.4,347.3 218.4,368.8 219.8,368.4 219.8,355.3 221.3,359.5 221.3,373.4 222.7,364.4 222.7,352.5 224.1,360.3 224.1,367.5 225.6,367.5 225.6,347.2 227.0,352.9 227.0,370.2 228.5,369.7 228.5,346.9 229.9,350.7 229.9,376.6 231.4,376.3 231.4,349.4 232.8,351.2 232.8,367.2 234.3,365.4 234.3,355.7 235.7,346.1 235.7,358.4 237.2,370.3 237.2,352.2 238.6,348.7 238.6,369.1 240.1,363.0 240.1,359.8 241.5,352.7 241.5,374.0 243.0,365.9 243.0,345.8 244.4,347.8 244.4,359.3 245.9,363.8 245.9,355.5 247.3,356.6 247.3,376.1 248.8,373.2 248.8,340.8 250.2,349.4 250.2,368.7 251.7,367.2 251.7,356.4 253.1,351.6 253.1,368.3 254.6,375.9 254.6,352.9 256.0,349.3 256.0,367.5 257.5,365.4 257.5,357.1 258.9,356.6 258.9,363.1 260.4,368.8 260.4,363.5 261.8,348.9 261.8,373.3 263.3,363.0 263.3,351.8 264.7,357.7 264.7,366.5 266.2,373.5 266.2,357.1 267.6,352.7 267.6,362.9 269.1,371.5 269.1,355.2 270.5,357.6 270.5,368.7 272.0,363.4 272.0,356.1 273.4,350.1 273.4,364.6 274.9,366.1 274.9,357.2 276.3,362.0 276.3,371.0 277.8,384.3 277.8,357.8 279.2,362.5 279.2,370.0 280.7,372.0 280.7,357.5 282.1,365.1 282.1,374.8 283.6,374.6 283.6,361.7 285.0,352.5 285.0,374.5 286.5,367.8 286.5,354.8 287.9,361.7 287.9,373.4 289.4,376.9 289.4,355.8 290.8,365.1 290.8,383.2 292.3,364.5 292.3,354.7 293.7,365.5 293.7,381.7 295.2,374.4 295.2,365.1 296.6,361.6 296.6,368.6 298.1,383.1 298.1,361.5 299.5,359.6 299.5,373.0 301.0,375.3 301.0,359.1 302.4,360.7 302.4,387.5 303.9,371.3 303.9,357.8 305.3,369.1 305.3,379.2 306.8,380.8 306.8,364.1 308.2,366.7 308.2,373.8 309.7,375.6 309.7,363.3 311.1,356.9 311.1,383.2 312.6,389.1 312.6,368.7 314.0,364.9 314.0,382.8 315.5,383.4 315.5,369.6 316.9,367.3 316.9,374.1 318.4,378.5 318.4,361.8 319.8,356.9 319.8,379.3 321.3,383.6 321.3,371.2 322.7,361.1 322.7,370.0 324.2,378.4 324.2,362.8 325.6,368.4 325.6,385.8 327.1,377.4 327.1,369.8 328.5,370.5 328.5,380.3 330.0,386.6 330.0,366.4 331.4,369.5 331.4,387.3 332.9,384.8 332.9,369.6 334.3,362.8 334.3,373.8 335.8,383.4 335.8,364.3 337.2,368.2 337.2,383.8 338.7,383.4 338.7,370.8 340.1,365.3 340.1,375.6 341.6,381.7 341.6,357.1 343.0,367.7 343.0,375.5 344.5,388.5 344.5,367.2 345.9,370.3 345.9,382.4 347.4,379.4 347.4,367.2 348.8,365.2 348.8,384.4 350.3,388.6 350.3,370.2 351.7,369.5 351.7,386.6 353.2,385.5 353.2,362.9 354.6,373.0 354.6,381.4 356.1,380.0 356.1,369.0 357.5,361.9 357.5,379.0 359.0,385.0 359.0,360.6 360.4,369.2 360.4,391.4 361.9,381.9 361.9,364.5 363.3,370.7 363.3,382.3 364.8,386.1 364.8,371.2 366.2,374.4 366.2,384.8 367.7,388.6 367.7,374.2 369.1,372.4 369.1,389.8 370.5,386.3 370.5,375.2 372.0,369.8 372.0,381.8 373.4,390.4 373.4,382.7 374.9,363.0 374.9,388.5 376.3,390.2 376.3,373.7 377.8,367.7 377.8,392.1 379.2,393.9 379.2,375.1 380.7,379.2 380.7,393.8 382.1,397.9 382.1,382.0 383.6,387.3 383.6,394.3 385.0,390.6 385.0,384.8 386.5,380.3 386.5,395.4 387.9,399.0 387.9,383.3 389.4,378.7 389.4,396.3 390.8,398.2 390.8,391.3 392.3,382.9 392.3,403.4 393.7,401.2 393.7,376.8 395.2,386.5 395.2,397.4 396.6,405.3 396.6,395.0 398.1,394.7 398.1,402.6 399.5,405.2 399.5,392.8 401.0,381.1 401.0,411.1 402.4,406.4 402.4,395.2 403.9,398.6 403.9,415.7 405.3,423.5 405.3,391.1 406.8,402.6 406.8,409.2 408.2,415.1 408.2,402.1 409.7,404.9 409.7,414.3 411.1,422.1 411.1,411.3 412.6,395.7 412.6,409.4 414.0,415.1 414.0,406.4 415.5,404.1 415.5,418.4 416.9,416.8 416.9,404.3 418.4,411.3 418.4,421.2 419.8,420.8 419.8,413.8 421.3,416.1 421.3,419.9 422.7,422.2 422.7,412.1 424.2,409.7 424.2,430.2 425.6,424.3 425.6,412.7 427.1,415.1 427.1,425.2 428.5,429.1 428.5,411.2 430.0,411.5 430.0,420.6 431.4,423.7 431.4,419.9 432.9,413.9 432.9,424.2 434.3,430.5 434.3,412.7 435.8,414.1 435.8,428.1 437.2,425.6 437.2,410.8 438.7,420.3 438.7,427.3 440.1,423.1 440.1,415.4 441.6,404.7 441.6,430.3 443.0,425.1 443.0,418.0 444.5,419.2 444.5,426.8 445.9,429.6 445.9,415.9 447.4,418.0 447.4,431.5 448.8,426.5 448.8,421.6 450.3,426.2 450.3,436.0 451.7,431.6 451.7,421.0 453.2,420.3 453.2,439.1 454.6,428.4 454.6,420.0 456.1,435.5 456.1,440.5 457.5,437.1 457.5,421.9 459.0,422.6 459.0,441.3 460.4,440.6 460.4,421.2 461.9,435.3 461.9,445.8 463.3,440.8 463.3,434.4 464.8,431.0 464.8,442.5 466.2,447.9 466.2,439.2 467.7,427.0 467.7,440.6 469.1,443.0 469.1,430.8 470.6,431.3 470.6,438.0 472.0,446.8 472.0,427.1 473.5,431.9 473.5,441.9 474.9,453.1 474.9,433.3 476.4,435.7 476.4,451.9 477.8,448.5 477.8,434.1 479.3,434.5 479.3,443.4 480.7,445.7 480.7,435.7 482.2,435.8 482.2,445.4 483.6,449.2 483.6,436.3 485.1,437.9 485.1,450.8 486.5,444.5 486.5,437.5 488.0,437.9 488.0,451.4 489.4,451.0 489.4,440.7 490.9,432.6 490.9,457.0 492.3,454.6 492.3,442.3 493.8,438.8 493.8,449.1 495.2,450.0 495.2,437.4 496.7,449.3 496.7,455.7 498.1,458.6 498.1,449.7 499.6,438.2 499.6,457.4 501.0,459.9 501.0,437.9 502.5,442.3 502.5,448.5 503.9,458.5 503.9,445.1 505.4,441.8 505.4,457.3 506.8,458.0 506.8,441.2 508.3,450.6 508.3,463.3 509.7,465.0 509.7,443.8 511.2,452.3 511.2,460.8 512.6,461.2 512.6,449.4 514.0,442.9 514.0,456.0 515.5,458.9 515.5,450.2 516.9,448.0 516.9,460.6 518.4,458.8 518.4,440.9 519.8,450.7 519.8,457.2 521.3,460.2 521.3,439.7 522.7,452.6 522.7,463.6 524.2,464.2 524.2,454.1 525.6,446.7 525.6,459.6 527.1,460.6 527.1,442.7 528.5,451.0 528.5,456.6 530.0,460.7 530.0,458.2 531.4,454.7 531.4,463.9 532.9,463.2 532.9,455.4 534.3,447.4 534.3,462.3 535.8,456.7 535.8,454.3 537.2,454.1 537.2,464.5 538.7,470.3 538.7,453.1 540.1,456.4 540.1,469.3 541.6,461.6 541.6,452.2 543.0,448.8 543.0,467.9 544.5,466.1 544.5,455.2 545.9,454.8 545.9,465.0 547.4,473.7 547.4,446.8 548.8,450.6 548.8,456.3 550.3,471.5 550.3,456.3 551.7,464.8 551.7,469.7 553.2,470.6 553.2,454.5 554.6,464.7 554.6,471.9 556.1,464.9 556.1,454.9 557.5,461.4 557.5,472.0 559.0,470.9 559.0,463.7 560.4,456.2 560.4,469.0 561.9,468.0 561.9,455.7 563.3,463.3 563.3,470.9 564.8,466.6 564.8,459.8 566.2,459.6 566.2,464.4 567.7,480.9 567.7,467.8 569.1,460.1 569.1,471.7 570.6,472.2 570.6,458.3 572.0,456.2 572.0,470.2 573.5,463.2 573.5,462.7 574.9,463.8 574.9,470.6 576.4,475.9 576.4,463.1 577.8,457.6 577.8,475.3 579.3,468.2 579.3,464.5 580.7,463.4 580.7,480.3 582.2,470.0 582.2,463.9 583.6,463.4 583.6,473.4 585.1,476.8 585.1,466.7 586.5,465.6 586.5,478.3 588.0,477.0 588.0,463.8 589.4,461.6 589.4,474.5 590.9,476.5 590.9,467.0 592.3,469.9 592.3,479.3 593.8,482.3 593.8,462.4 595.2,472.2 595.2,483.6 596.7,482.8 596.7,459.9 598.1,461.1 598.1,476.7 599.6,477.8 599.6,467.7 601.0,467.1 601.0,481.3 602.5,473.9 602.5,470.7 603.9,470.8 603.9,481.3 605.4,474.7 605.4,460.4 606.8,466.1 606.8,472.8 608.3,481.6 608.3,464.5 609.7,473.4 609.7,482.6 611.2,485.8 611.2,471.6 612.6,474.1 612.6,478.8 614.1,477.6 614.1,472.1 615.5,469.8 615.5,484.2 617.0,476.0 617.0,464.2 618.4,469.8 618.4,481.3 619.9,477.7 619.9,468.2 621.3,477.7 621.3,484.2 622.8,476.7 622.8,462.6 624.2,477.6 624.2,480.5 625.7,480.7 625.7,468.4 627.1,468.3 627.1,482.4 628.6,488.7 628.6,475.9 630.0,473.7 630.0,485.4 631.5,477.2 631.5,474.0 632.9,472.3 632.9,477.4 634.4,482.7 634.4,475.2 635.8,476.5 635.8,487.2 637.3,486.2 637.3,466.3 638.7,467.6 638.7,474.0 640.2,481.8 640.2,470.5 641.6,474.6 641.6,484.0 643.1,485.7 643.1,458.3 644.5,477.4 644.5,485.1 646.0,490.8 646.0,466.3 647.4,469.2 647.4,485.7 648.9,482.6 648.9,468.8 650.3,468.8 650.3,485.6 651.8,485.4 651.8,468.6 653.2,470.4 653.2,483.8 654.7,485.0 654.7,467.9 656.1,474.0 656.1,481.9 657.6,482.7 657.6,469.9 659.0,474.3 659.0,489.5 660.4,481.0 660.4,470.1 661.9,474.4 661.9,488.3 663.3,481.8 663.3,479.4 664.8,475.4 664.8,485.8 666.2,489.5 666.2,472.3 667.7,477.7 667.7,486.2 669.1,488.0 669.1,471.6 670.6,463.5 670.6,480.8 672.0,478.8 672.0,475.4 673.5,470.4 673.5,481.6 674.9,482.8 674.9,473.1 676.4,474.2 676.4,486.2 677.8,482.6 677.8,473.7 679.3,478.1 679.3,486.4 680.7,480.6 680.7,476.8 682.2,473.1 682.2,484.5 683.6,482.2 683.6,478.0 685.1,468.9 685.1,479.8 686.5,483.8 686.5,474.5 688.0,479.1 688.0,481.3 689.4,495.9 689.4,474.6 690.9,466.0 690.9,480.1 692.3,484.4 692.3,466.3 693.8,484.3 693.8,489.7 695.2,480.6 695.2,474.8 696.7,471.9 696.7,486.0 698.1,481.3 698.1,465.4 699.6,473.9 699.6,479.4 701.0,485.3 701.0,477.3 702.5,470.5 702.5,476.0 703.9,485.8 703.9,478.8 705.4,475.1 705.4,484.1 706.8,483.0 706.8,476.8 708.3,470.6 708.3,484.2 709.7,484.1 709.7,473.3 711.2,474.3 711.2,485.7 712.6,482.2 712.6,474.6 714.1,473.3 714.1,481.3 715.5,481.8 715.5,469.5 717.0,467.7 717.0,479.7 718.4,486.4 718.4,469.6 719.9,466.8 719.9,482.8 721.3,492.0 721.3,478.4 722.8,474.4 722.8,485.3 724.2,488.3 724.2,477.5 725.7,477.1 725.7,482.6 727.1,488.7 727.1,469.7 728.6,475.6 728.6,489.7 730.0,489.1 730.0,481.3 731.5,479.9 731.5,486.7 732.9,488.2 732.9,478.2 734.4,480.5 734.4,488.4 735.8,491.0 735.8,476.3 737.3,477.1 737.3,485.9 738.7,490.9 738.7,477.9 740.2,484.2 740.2,490.3 741.6,497.2 741.6,479.9 743.1,484.0 743.1,491.7 744.5,492.5 744.5,485.1 746.0,479.1 746.0,494.5 747.4,485.0 747.4,480.3 748.9,476.8 748.9,493.1 750.3,489.0 750.3,483.9 751.8,477.4 751.8,497.4 753.2,490.3 753.2,476.0 754.7,479.4 754.7,489.1 756.1,492.7 756.1,475.5 757.6,486.7 757.6,490.8 759.0,489.3 759.0,485.6 760.5,479.9 760.5,492.1 761.9,492.7 761.9,477.7 763.4,482.5 763.4,495.3 764.8,501.7 764.8,474.9 766.3,481.6 766.3,487.6 767.7,489.8 767.7,481.6 769.2,488.7 769.2,498.1 770.6,493.7 770.6,483.5 772.1,479.4 772.1,495.1 773.5,489.8 773.5,480.2 775.0,478.9 775.0,489.1 776.4,490.2 776.4,487.6 777.9,482.7 777.9,497.3 779.3,495.0 779.3,484.2 780.8,488.6 780.8,493.2 782.2,504.5 782.2,483.0 783.7,485.3 783.7,497.5 785.1,490.5 785.1,483.7 786.6,485.0 786.6,493.8 788.0,494.6 788.0,488.3 789.5,491.0 789.5,496.6 790.9,505.9 790.9,488.2 792.4,487.4 792.4,495.7 793.8,497.6 793.8,483.1 795.3,484.1 795.3,491.9 796.7,500.9 796.7,486.9 798.2,489.1 798.2,498.6 799.6,495.5 799.6,485.2 801.1,483.4 801.1,500.8 802.5,495.5 802.5,488.2 804.0,494.4 804.0,502.3 805.4,500.7 805.4,487.0 806.8,486.8 806.8,502.5 808.3,495.7 808.3,486.4 809.7,496.1 809.7,501.9 811.2,502.7 811.2,499.4 812.6,491.8 812.6,505.8 814.1,499.3 814.1,493.0 815.5,490.9 815.5,502.3 817.0,507.9 817.0,489.8 818.4,489.9 818.4,503.5 819.9,509.9 819.9,485.9 821.3,495.8 821.3,504.7 822.8,501.4 822.8,491.5 824.2,495.3 824.2,501.7 825.7,505.4 825.7,489.2 827.1,495.5 827.1,507.0 828.6,500.7 828.6,495.4 830.0,496.3 830.0,500.8 831.5,509.7 831.5,491.3 832.9,492.9 832.9,500.0 834.4,499.9 834.4,488.8 835.8,495.2 835.8,499.4 837.3,507.9 837.3,498.0 838.7,495.7 838.7,505.2 840.2,512.0 840.2,495.1 841.6,489.9 841.6,498.6 843.1,504.1 843.1,493.8 844.5,497.6 844.5,505.9 846.0,504.7 846.0,496.0 847.4,502.5 847.4,509.8 848.9,509.6 848.9,498.9 850.3,495.4 850.3,508.9 851.8,505.0 851.8,492.7 853.2,490.6 853.2,501.3 854.7,508.5 854.7,501.0 856.1,497.4 856.1,510.9 857.6,508.5 857.6,492.9 859.0,499.7 859.0,504.1 860.5,507.5 860.5,499.0 861.9,495.1 861.9,504.3 863.4,503.3 863.4,497.3 864.8,506.1 864.8,514.8 866.3,509.5 866.3,501.8 867.7,500.3 867.7,507.2 869.2,508.8 869.2,495.9 870.6,497.9 870.6,515.4 872.1,517.2 872.1,501.3 873.5,498.8 873.5,508.1 875.0,514.1 875.0,496.7 876.4,504.2 876.4,519.5 877.9,513.6 877.9,496.2 879.3,501.0 879.3,512.1 880.8,505.2 880.8,499.9 882.2,495.7 882.2,509.5 883.7,510.7 883.7,496.2 885.1,499.6 885.1,512.4 886.6,512.4 886.6,503.0 888.0,502.6 888.0,512.5 889.5,510.1 889.5,503.4 890.9,498.1 890.9,513.1 892.4,513.4 892.4,496.6 893.8,505.0 893.8,513.0 895.3,508.8 895.3,503.8 896.7,498.0 896.7,525.3 898.2,505.3 898.2,500.3 899.6,497.1 899.6,512.0 901.1,508.7 901.1,506.5 902.5,503.1 902.5,508.9 904.0,513.4 904.0,502.9 905.4,506.5 905.4,516.1 906.9,515.8 906.9,507.5 908.3,503.7 908.3,509.7 909.8,514.6 909.8,503.3 911.2,503.5 911.2,511.8 912.7,518.6 912.7,503.7 914.1,502.5 914.1,509.6 915.6,509.6 915.6,503.6 917.0,505.4 917.0,509.2 918.5,518.7 918.5,509.9 919.9,505.7 919.9,515.6 921.4,513.6 921.4,508.2 922.8,505.6 922.8,509.7 924.3,516.1 924.3,506.3 925.7,508.6 925.7,520.4 927.2,520.6 927.2,507.1 928.6,504.9 928.6,518.1 930.1,520.6 930.1,509.9 931.5,509.8 931.5,511.5 933.0,518.4 933.0,509.1 934.4,505.8 934.4,517.9 935.9,521.1 935.9,512.5 937.3,507.8 937.3,520.9 938.8,520.5 938.8,515.2 940.2,507.7 940.2,519.7 941.7,524.0 941.7,513.4 943.1,514.3 943.1,519.8 944.6,518.4 944.6,515.9 946.0,509.0 946.0,521.5 947.5,520.4 947.5,511.2 948.9,513.0 948.9,520.9"/>
<polyline points="79.2,534.6 79.2,544.5 80.6,548.2 80.6,534.3 82.1,534.4 82.1,548.9 83.5,553.5 83.5,539.3 85.0,538.2 85.0,547.9 86.4,548.1 86.4,541.5 87.9,539.7 87.9,547.8 89.3,554.8 89.3,542.5 90.8,540.5 90.8,553.4 92.2,544.4 92.2,535.3 93.7,543.7 93.7,552.8 95.1,545.1 95.1,538.3 96.6,536.7 96.6,550.0 98.0,544.3 98.0,535.7 99.5,534.3 99.5,549.0 100.9,547.0 100.9,541.8 102.4,548.8 102.4,552.1 103.8,545.2 103.8,540.3 105.3,543.7 105.3,551.0 106.7,545.2 106.7,536.2 108.2,536.3 108.2,543.2 109.6,544.7 109.6,531.4 111.1,529.9 111.1,548.8 112.5,549.0 112.5,532.6 114.0,533.9 114.0,539.5 115.4,548.1 115.4,530.4 116.9,538.6 116.9,540.8 118.3,546.8 118.3,538.0 119.8,534.0 119.8,545.9 121.2,546.7 121.2,533.4 122.7,530.1 122.7,547.7 124.1,544.8 124.1,531.6 125.6,535.0 125.6,545.4 127.0,545.2 127.0,528.3 128.5,537.1 128.5,541.1 129.9,544.6 129.9,523.7 131.4,528.7 131.4,548.5 132.8,540.2 132.8,526.4 134.3,530.6 134.3,539.2 135.7,542.6 135.7,529.8 137.2,531.0 137.2,542.6 138.6,539.2 138.6,520.6 140.1,525.6 140.1,538.1 141.5,532.6 141.5,526.0 143.0,522.6 143.0,537.2 144.4,536.1 144.4,523.3 145.9,528.3 145.9,538.9 147.3,536.0 147.3,532.0 148.8,514.9 148.8,549.2 150.2,527.6 150.2,522.6 151.7,524.4 151.7,538.3 153.1,528.8 153.1,519.8 154.6,515.7 154.6,532.7 156.0,535.8 156.0,523.2 157.5,516.2 157.5,530.4 158.9,520.1 158.9,501.3 160.4,515.8 160.4,529.9 161.8,517.1 161.8,511.5 163.3,510.5 163.3,528.8 164.7,520.4 164.7,511.5 166.2,509.9 166.2,520.5 167.6,525.4 167.6,504.0 169.1,504.4 169.1,522.8 170.5,519.7 170.5,507.6 172.0,502.7 172.0,522.4 173.4,515.4 173.4,499.8 174.9,495.6 174.9,513.6 176.3,509.2 176.3,495.4 177.8,487.8 177.8,505.3 179.2,504.9 179.2,485.8 180.7,494.3 180.7,501.0 182.1,505.1 182.1,485.8 183.6,494.4 183.6,504.0 185.0,500.1 185.0,484.7 186.5,485.8 186.5,505.6 187.9,488.5 187.9,482.1 189.4,476.8 189.4,490.0 190.8,491.4 190.8,475.7 192.3,480.0 192.3,486.3 193.7,485.8 193.7,480.1 195.2,476.6 195.2,486.8 196.6,485.7 196.6,470.9 198.1,470.5 198.1,478.5 199.5,486.7 199.5,479.3 201.0,468.8 201.0,480.2 202.4,493.5 202.4,472.2 203.9,467.3 203.9,483.3 205.3,478.0 205.3,465.8 206.8,463.0 206.8,487.1 208.2,472.5 208.2,462.8 209.7,461.4 209.7,474.0 211.1,465.6 211.1,459.2 212.6,459.1 212.6,469.7 214.0,469.6 214.0,459.7 215.5,457.9 215.5,481.1 216.9,470.1 216.9,457.2 218.4,453.6 218.4,467.9 219.8,469.8 219.8,452.1 221.3,456.1 221.3,475.2 222.7,472.0 222.7,454.0 224.1,457.2 224.1,475.5 225.6,468.6 225.6,454.3 227.0,458.0 227.0,468.4 228.5,466.7 228.5,453.1 229.9,458.9 229.9,467.2 231.4,465.0 231.4,447.4 232.8,447.3 232.8,468.0 234.3,460.4 234.3,457.5 235.7,443.5 235.7,467.8 237.2,470.9 237.2,453.7 238.6,447.3 238.6,471.6 240.1,472.5 240.1,455.1 241.5,450.1 241.5,468.5 243.0,479.7 243.0,448.7 244.4,463.0 244.4,468.2 245.9,464.7 245.9,452.6 247.3,450.3 247.3,466.0 248.8,469.1 248.8,443.3 250.2,459.5 250.2,467.6 251.7,469.5 251.7,452.5 253.1,446.0 253.1,471.3 254.6,464.8 254.6,453.5 256.0,457.5 256.0,461.7 257.5,464.4 257.5,446.6 258.9,444.8 258.9,475.1 260.4,473.4 260.4,454.4 261.8,448.3 261.8,468.4 263.3,469.9 263.3,452.8 264.7,454.8 264.7,466.5 266.2,464.0 266.2,442.7 267.6,456.1 267.6,471.7 269.1,459.6 269.1,441.2 270.5,450.3 270.5,459.3 272.0,461.6 272.0,450.8 273.4,454.8 273.4,465.0 274.9,471.6 274.9,459.6 276.3,451.0 276.3,472.2 277.8,465.2 277.8,445.0 279.2,444.1 279.2,472.9 280.7,469.7 280.7,452.7 282.1,448.6 282.1,476.0 283.6,471.5 283.6,450.3 285.0,445.5 285.0,464.6 286.5,467.8 286.5,440.3 287.9,455.2 287.9,468.6 289.4,470.6 289.4,455.3 290.8,452.4 290.8,466.6 292.3,471.8 292.3,456.3 293.7,444.0 293.7,465.4 295.2,473.1 295.2,441.4 296.6,464.9 296.6,478.4 298.1,469.5 298.1,455.1 299.5,448.2 299.5,465.8 301.0,471.3 301.0,452.8 302.4,451.1 302.4,469.3 303.9,474.8 303.9,460.1 305.3,459.0 305.3,470.8 306.8,479.1 306.8,467.9 308.2,466.5 308.2,483.4 309.7,473.5 309.7,459.7 311.1,463.6 311.1,472.3 312.6,475.6 312.6,456.6 314.0,465.7 314.0,473.6 315.5,481.6 315.5,463.9 316.9,459.1 316.9,475.5 318.4,481.6 318.4,464.9 319.8,457.5 319.8,471.6 321.3,479.4 321.3,464.4 322.7,461.6 322.7,470.1 324.2,483.2 324.2,460.9 325.6,466.3 325.6,476.5 327.1,481.4 327.1,466.0 328.5,465.6 328.5,480.3 330.0,474.5 330.0,458.7 331.4,455.6 331.4,473.0 332.9,492.2 332.9,469.1 334.3,465.9 334.3,478.2 335.8,478.5 335.8,456.1 337.2,463.2 337.2,481.2 338.7,472.5 338.7,462.2 340.1,459.4 340.1,481.0 341.6,478.6 341.6,468.2 343.0,450.6 343.0,481.8 344.5,477.2 344.5,470.1 345.9,457.4 345.9,487.9 347.4,484.1 347.4,468.0 348.8,461.8 348.8,477.9 350.3,471.0 350.3,465.5 351.7,465.1 351.7,491.6 353.2,474.0 353.2,461.0 354.6,458.0 354.6,483.5 356.1,474.3 356.1,464.1 357.5,456.0 357.5,473.3 359.0,477.6 359.0,462.7 360.4,460.5 360.4,466.6 361.9,482.3 361.9,461.1 363.3,471.5 363.3,483.3 364.8,479.9 364.8,468.0 366.2,466.2 366.2,480.5 367.7,481.2 367.7,464.6 369.1,470.2 369.1,475.5 370.5,487.5 370.5,472.6 372.0,477.5 372.0,487.8 373.4,486.4 373.4,479.1 374.9,478.1 374.9,494.0 376.3,482.1 376.3,475.3 377.8,477.0 377.8,489.3 379.2,490.3 379.2,477.5 380.7,461.7 380.7,487.6 382.1,484.9 382.1,467.3 383.6,478.6 383.6,493.4 385.0,500.7 385.0,483.4 386.5,467.0 386.5,492.5 387.9,488.1 387.9,477.7 389.4,481.1 389.4,498.6 390.8,489.0 390.8,476.3 392.3,474.3 392.3,489.3 393.7,504.8 393.7,470.0 395.2,481.3 395.2,495.8 396.6,495.9 396.6,486.8 398.1,469.2 398.1,486.5 399.5,498.2 399.5,477.8 401.0,485.0 401.0,500.6 402.4,492.9 402.4,484.7 403.9,481.6 403.9,496.1 405.3,493.3 405.3,477.5 406.8,482.5 406.8,499.9 408.2,504.3 408.2,492.6 409.7,493.8 409.7,499.5 411.1,504.5 411.1,495.1 412.6,490.3 412.6,500.8 414.0,501.6 414.0,489.9 415.5,487.7 415.5,506.3 416.9,499.9 416.9,494.2 418.4,502.9 418.4,516.9 419.8,507.2 419.8,494.3 421.3,494.3 421.3,511.1 422.7,509.1 422.7,495.2 424.2,501.5 424.2,514.0 425.6,514.6 425.6,495.9 427.1,497.4 427.1,510.8 428.5,507.9 428.5,499.4 430.0,506.9 430.0,514.6 431.4,509.4 431.4,503.3 432.9,504.3 432.9,510.6 434.3,511.7 434.3,502.0 435.8,494.1 435.8,510.8 437.2,520.5 437.2,511.8 438.7,486.6 438.7,508.5 440.1,516.3 440.1,508.7 441.6,505.8 441.6,512.3 443.0,519.1 443.0,507.4 444.5,510.4 444.5,519.4 445.9,517.7 445.9,508.1 447.4,509.5 447.4,529.4 448.8,526.7 448.8,507.7 450.3,505.7 450.3,513.4 451.7,522.4 451.7,515.6 453.2,518.3 453.2,530.8 454.6,522.7 454.6,507.4 456.1,512.4 456.1,528.4 457.5,522.2 457.5,510.1 459.0,516.5 459.0,525.3 460.4,532.2 460.4,505.4 461.9,515.4 461.9,533.0 463.3,527.1 463.3,517.4 464.8,515.5 464.8,532.1 466.2,536.0 466.2,524.2 467.7,520.1 467.7,526.5 469.1,534.4 469.1,516.1 470.6,520.5 470.6,531.0 472.0,531.2 472.0,517.3 473.5,509.9 473.5,528.5 474.9,533.5 474.9,521.1 476.4,525.7 476.4,535.3 477.8,534.8 477.8,514.5 479.3,526.7 479.3,530.9 480.7,540.0 480.7,522.0 482.2,518.5 482.2,525.0 483.6,532.5 483.6,526.0 485.1,529.7 485.1,544.6 486.5,531.8 486.5,518.2 488.0,522.7 488.0,541.6 489.4,537.8 489.4,523.3 490.9,524.9 490.9,535.1 492.3,544.6 492.3,532.4 493.8,528.0 493.8,547.5 495.2,531.9 495.2,524.4 496.7,522.1 496.7,541.3 498.1,533.9 498.1,531.1 499.6,525.5 499.6,537.3 501.0,536.0 501.0,525.1 502.5,530.8 502.5,536.4 503.9,533.7 503.9,528.6 505.4,522.8 505.4,535.9 506.8,538.9 506.8,521.4 508.3,524.5 508.3,540.2 509.7,537.5 509.7,524.2 511.2,523.3 511.2,542.9 512.6,535.7 512.6,516.1 514.0,530.2 514.0,538.4 515.5,544.8 515.5,528.8 516.9,529.5 516.9,540.3 518.4,534.8 518.4,532.2 519.8,535.1 519.8,548.3 521.3,540.2 521.3,529.7 522.7,529.2 522.7,542.3 524.2,543.7 524.2,527.9 525.6,539.4 525.6,547.2 527.1,542.8 527.1,531.0 528.5,530.1 528.5,537.0 530.0,550.1 530.0,530.8 531.4,533.4 531.4,543.4 532.9,552.7 532.9,530.6 534.3,541.9 534.3,547.0 535.8,545.9 535.8,529.3 537.2,541.0 537.2,551.0 538.7,547.5 538.7,533.5 540.1,538.5 540.1,555.4 541.6,558.5 541.6,537.7 543.0,533.6 543.0,550.0 544.5,550.5 544.5,535.2 545.9,536.2 545.9,546.7 547.4,555.8 547.4,539.2 548.8,538.6 548.8,555.1 550.3,551.1 550.3,542.4 551.7,537.2 551.7,547.7 553.2,550.6 553.2,540.3 554.6,541.8 554.6,563.8 556.1,556.2 556.1,541.3 557.5,544.4 557.5,556.9 559.0,556.2 559.0,548.6 560.4,546.9 560.4,553.0 561.9,549.4 561.9,546.6 563.3,537.8 563.3,555.8 564.8,551.2 564.8,539.5 566.2,546.0 566.2,556.1 567.7,554.8 567.7,545.4 569.1,551.2 569.1,558.1 570.6,554.7 570.6,542.0 572.0,544.5 572.0,560.4 573.5,558.3 573.5,544.0 574.9,550.5 574.9,556.4 576.4,563.5 576.4,538.6 577.8,542.8 577.8,550.6 579.3,553.5 579.3,549.7 580.7,542.6 580.7,562.5 582.2,559.6 582.2,545.6 583.6,544.2 583.6,560.7 585.1,555.2 585.1,546.9 586.5,544.1 586.5,563.8 588.0,560.5 588.0,553.5 589.4,555.7 589.4,565.3 590.9,560.7 590.9,551.2 592.3,549.3 592.3,563.6 593.8,565.2 593.8,552.9 595.2,547.0 595.2,558.0 596.7,563.1 596.7,554.5 598.1,556.3 598.1,561.4 599.6,566.8 599.6,555.7 601.0,557.9 601.0,564.9 602.5,562.9 602.5,549.3 603.9,549.2 603.9,569.1 605.4,565.4 605.4,551.6 606.8,556.5 606.8,562.5 608.3,559.2 608.3,547.3 609.7,554.5 609.7,562.3 611.2,563.8 611.2,548.1 612.6,558.4 612.6,569.1 614.1,563.8 614.1,556.2 615.5,559.3 615.5,564.7 617.0,567.2 617.0,558.5 618.4,553.6 618.4,570.4 619.9,566.0 619.9,556.2 621.3,551.1 621.3,564.0 622.8,565.1 622.8,555.3 624.2,555.6 624.2,570.3 625.7,573.4 625.7,558.2 627.1,553.1 627.1,564.4 628.6,568.0 628.6,561.3 630.0,560.0 630.0,570.4 631.5,577.1 631.5,558.7 632.9,552.2 632.9,568.7 634.4,567.6 634.4,557.3 635.8,556.0 635.8,566.1 637.3,561.1 637.3,554.5 638.7,556.9 638.7,567.0 640.2,568.1 640.2,555.1 641.6,550.8 641.6,566.5 643.1,564.1 643.1,556.5 644.5,558.2 644.5,570.1 646.0,568.2 646.0,558.7 647.4,556.0 647.4,560.7 648.9,573.1 648.9,560.2 650.3,561.1 650.3,569.0 651.8,562.0 651.8,552.4 653.2,558.7 653.2,567.0 654.7,564.1 654.7,556.8 656.1,556.6 656.1,563.3 657.6,562.8 657.6,555.7 659.0,555.7 659.0,558.4 660.4,561.2 660.4,555.3 661.9,556.4 661.9,566.0 663.3,567.0 663.3,552.1 664.8,555.5 664.8,574.1 666.2,571.5 666.2,559.5 667.7,553.8 667.7,571.9 669.1,567.8 669.1,561.7 670.6,560.2 670.6,565.6 672.0,563.7 672.0,555.2 673.5,562.7 673.5,567.2 674.9,573.7 674.9,559.6 676.4,554.2 676.4,567.3 677.8,559.4 677.8,555.3 679.3,559.2 679.3,570.0 680.7,563.8 680.7,556.6 682.2,557.6 682.2,569.4 683.6,574.8 683.6,560.3 685.1,557.8 685.1,570.7 686.5,569.8 686.5,556.5 688.0,562.2 688.0,569.8 689.4,566.6 689.4,556.6 690.9,556.6 690.9,573.6 692.3,569.4 692.3,560.6 693.8,561.7 693.8,574.4 695.2,574.5 695.2,563.3 696.7,565.2 696.7,571.7 698.1,573.5 698.1,560.4 699.6,556.2 699.6,572.8 701.0,567.2 701.0,554.4 702.5,561.3 702.5,576.3 703.9,568.2 703.9,553.3 705.4,559.8 705.4,576.3 706.8,571.1 706.8,555.2 708.3,559.4 708.3,570.8 709.7,571.8 709.7,553.9 711.2,559.9 711.2,566.2 712.6,569.1 712.6,564.2 714.1,554.7 714.1,572.9 715.5,581.5 715.5,562.5 717.0,561.8 717.0,568.4 718.4,559.8 718.4,552.1 719.9,556.9 719.9,568.5 721.3,570.6 721.3,560.0 722.8,560.5 722.8,565.8 724.2,563.5 724.2,550.6 725.7,557.7 725.7,570.6 727.1,579.2 727.1,566.5 728.6,556.3 728.6,569.6 730.0,568.0 730.0,559.2 731.5,561.0 731.5,571.9 732.9,564.2 732.9,562.9 734.4,562.1 734.4,570.5 735.8,569.0 735.8,560.5 737.3,561.2 737.3,569.0 738.7,572.1 738.7,559.8 740.2,559.1 740.2,570.8 741.6,572.5 741.6,566.9 743.1,563.0 743.1,573.8 744.5,567.0 744.5,559.0 746.0,565.0 746.0,571.0 747.4,565.4 747.4,555.4 748.9,564.4 748.9,571.5 750.3,570.2 750.3,560.0 751.8,557.0 751.8,572.3 753.2,573.3 753.2,559.4 754.7,562.6 754.7,567.5 756.1,570.4 756.1,564.8 757.6,565.1 757.6,573.2 759.0,579.0 759.0,558.8 760.5,562.8 760.5,572.9 761.9,578.0 761.9,565.5 763.4,561.8 763.4,572.9 764.8,577.2 764.8,558.8 766.3,568.7 766.3,580.8 767.7,573.3 767.7,568.7 769.2,570.0 769.2,574.4 770.6,575.9 770.6,570.1 772.1,558.0 772.1,576.1 773.5,572.5 773.5,567.4 775.0,566.2 775.0,578.8 776.4,578.8 776.4,571.3 777.9,563.9 777.9,574.0 779.3,579.9 779.3,573.2 780.8,571.1 780.8,576.5 782.2,575.3 782.2,572.4 783.7,568.1 783.7,582.2 785.1,583.2 785.1,568.2 786.6,569.0 786.6,575.2 788.0,580.0 788.0,568.0 789.5,572.1 789.5,580.7 790.9,581.9 790.9,570.0 792.4,571.4 792.4,583.8 793.8,579.9 793.8,573.8 795.3,570.0 795.3,582.1 796.7,582.9 796.7,574.8 798.2,570.9 798.2,588.4 799.6,582.9 799.6,564.8 801.1,570.9 801.1,586.2 802.5,582.8 802.5,567.6 804.0,564.5 804.0,580.5 805.4,581.5 805.4,575.8 806.8,573.8 806.8,579.2 808.3,586.3 808.3,570.8 809.7,574.1 809.7,586.8 811.2,576.4 811.2,572.9 812.6,574.0 812.6,581.1 814.1,585.4 814.1,571.9 815.5,576.1 815.5,580.2 817.0,590.1 817.0,571.1 818.4,571.2 818.4,587.9 819.9,590.7 819.9,580.3 821.3,574.4 821.3,582.6 822.8,588.6 822.8,575.9 824.2,579.6 824.2,587.6 825.7,586.4 825.7,578.2 827.1,573.4 827.1,592.1 828.6,590.8 828.6,579.0 830.0,578.5 830.0,588.5 831.5,594.6 831.5,578.2 832.9,578.2 832.9,589.9 834.4,584.0 834.4,580.8 835.8,578.6 835.8,589.3 837.3,587.3 837.3,584.7 838.7,580.4 838.7,588.3 840.2,585.4 840.2,579.3 841.6,579.4 841.6,585.7 843.1,587.3 843.1,578.4 844.5,577.2 844.5,596.2 846.0,589.8 846.0,580.0 847.4,581.6 847.4,594.7 848.9,596.1 848.9,582.4 850.3,585.4 850.3,599.0 851.8,592.1 851.8,581.3 853.2,581.4 853.2,590.2 854.7,594.8 854.7,585.1 856.1,584.1 856.1,599.6 857.6,594.7 857.6,581.0 859.0,585.6 859.0,600.1 860.5,593.2 860.5,584.8 861.9,589.9 861.9,595.2 863.4,595.1 863.4,581.3 864.8,581.5 864.8,593.1 866.3,595.0 866.3,589.2 867.7,587.3 867.7,598.3 869.2,598.1 869.2,588.2 870.6,584.5 870.6,597.1 872.1,596.7 872.1,586.9 873.5,586.7 873.5,592.9 875.0,595.3 875.0,589.7 876.4,592.5 876.4,595.0 877.9,592.2 877.9,587.0 879.3,589.1 879.3,597.0 880.8,604.0 880.8,579.7 882.2,585.2 882.2,600.3 883.7,597.9 883.7,588.2 885.1,583.4 885.1,595.3 886.6,593.5 886.6,586.5 888.0,588.1 888.0,601.3 889.5,599.7 889.5,590.2 890.9,590.1 890.9,603.1 892.4,601.6 892.4,596.8 893.8,592.4 893.8,602.5 895.3,596.6 895.3,589.3 896.7,587.9 896.7,597.4 898.2,599.5 898.2,589.9 899.6,590.8 899.6,600.2 901.1,598.6 901.1,589.3 902.5,590.8 902.5,603.7 904.0,600.6 904.0,594.6 905.4,592.3 905.4,600.1 906.9,603.6 906.9,592.0 908.3,594.0 908.3,608.1 909.8,599.9 909.8,593.2 911.2,594.0 911.2,606.1 912.7,598.5 912.7,588.8 914.1,589.2 914.1,602.6 915.6,603.4 915.6,597.7 917.0,595.9 917.0,610.1 918.5,599.1 918.5,591.1 919.9,595.2 919.9,606.8 921.4,599.2 921.4,590.3 922.8,591.1 922.8,605.7 924.3,601.0 924.3,591.5 925.7,593.5 925.7,598.7 927.2,609.3 927.2,595.9 928.6,592.6 928.6,606.4 930.1,595.1 930.1,591.6 931.5,595.1 931.5,604.8 933.0,607.4 933.0,595.1 934.4,594.1 934.4,608.1 935.9,600.1 935.9,592.6 937.3,596.4 937.3,599.9 938.8,598.3 938.8,591.5 940.2,592.6 940.2,604.8 941.7,602.2 941.7,593.5 943.1,598.8 943.1,602.5 944.6,600.5 944.6,595.2 946.0,597.0 946.0,602.9 947.5,604.9 947.5,595.5 948.9,597.4 948.9,611.5"/>
</g>
<g stroke="#c00000" stroke-width="3" fill="none" stroke-dasharray="13.4 8.45">
<line x1="424" y1="606.8" x2="424" y2="206.5"/>
<line x1="556" y1="603.6" x2="556" y2="203.2"/>
</g>
<g font-family="'Liberation Sans', 'DejaVu Sans', sans-serif" font-size="30.6" fill="#1a1a1a" text-anchor="middle">
<text x="78.3" y="670.7">10</text>
<text x="295.5" y="670.7">20</text>
<text x="513.1" y="670.7">30</text>
<text x="730.9" y="670.7">40</text>
<text x="948.4" y="670.7">50</text>
</g>
<text y="712" font-family="'Liberation Sans', 'DejaVu Sans', sans-serif" font-weight="bold" font-size="28.5" fill="#000"><tspan x="418.3" textLength="38" lengthAdjust="spacingAndGlyphs">2ϴ</tspan> <tspan x="462.3" textLength="118.6" lengthAdjust="spacingAndGlyphs">(degree)</tspan></text>
<g font-family="'Liberation Sans', 'DejaVu Sans', sans-serif" font-size="28" fill="#000">
<text transform="translate(49.3 494.4) rotate(-90)" textLength="119.5" lengthAdjust="spacingAndGlyphs">Intensity</text>
<text transform="translate(49.3 367.8) rotate(-90)" textLength="109.8" lengthAdjust="spacingAndGlyphs">(counts)</text>
</g>
<g font-family="'Liberation Serif', 'DejaVu Serif', serif" font-size="31.5" fill="#000">
<text y="217.4"><tspan x="625.6" textLength="115.5" lengthAdjust="spacing">PVPA24</tspan> <tspan x="749.6" textLength="17.8" lengthAdjust="spacing">+</tspan> <tspan x="777.3" textLength="110.6" lengthAdjust="spacing">PASP14</tspan> <tspan x="904.7" textLength="31.8" lengthAdjust="spacing">6d</tspan></text>
<text y="310.6"><tspan x="623.4" textLength="115.0" lengthAdjust="spacing">PVPA24</tspan> <tspan x="747.4" textLength="17.8" lengthAdjust="spacing">+</tspan> <tspan x="775.0" textLength="110.4" lengthAdjust="spacing">PASP14</tspan> <tspan x="902.3" textLength="32.0" lengthAdjust="spacing">3d</tspan></text>
<text y="470.8"><tspan x="763.2" textLength="115.5" lengthAdjust="spacing">PVPA24</tspan> <tspan x="896.5" textLength="31.6" lengthAdjust="spacing">6d</tspan></text>
<text y="558.9"><tspan x="760.9" textLength="114.8" lengthAdjust="spacing">PVPA24</tspan> <tspan x="893.7" textLength="31.6" lengthAdjust="spacing">3d</tspan></text>
</g>
<text x="918.9" y="78.3" font-family="'Liberation Serif', 'DejaVu Serif', serif" font-weight="bold" font-size="43.6" fill="#000">C</text>
</svg>
</body>
</html>
